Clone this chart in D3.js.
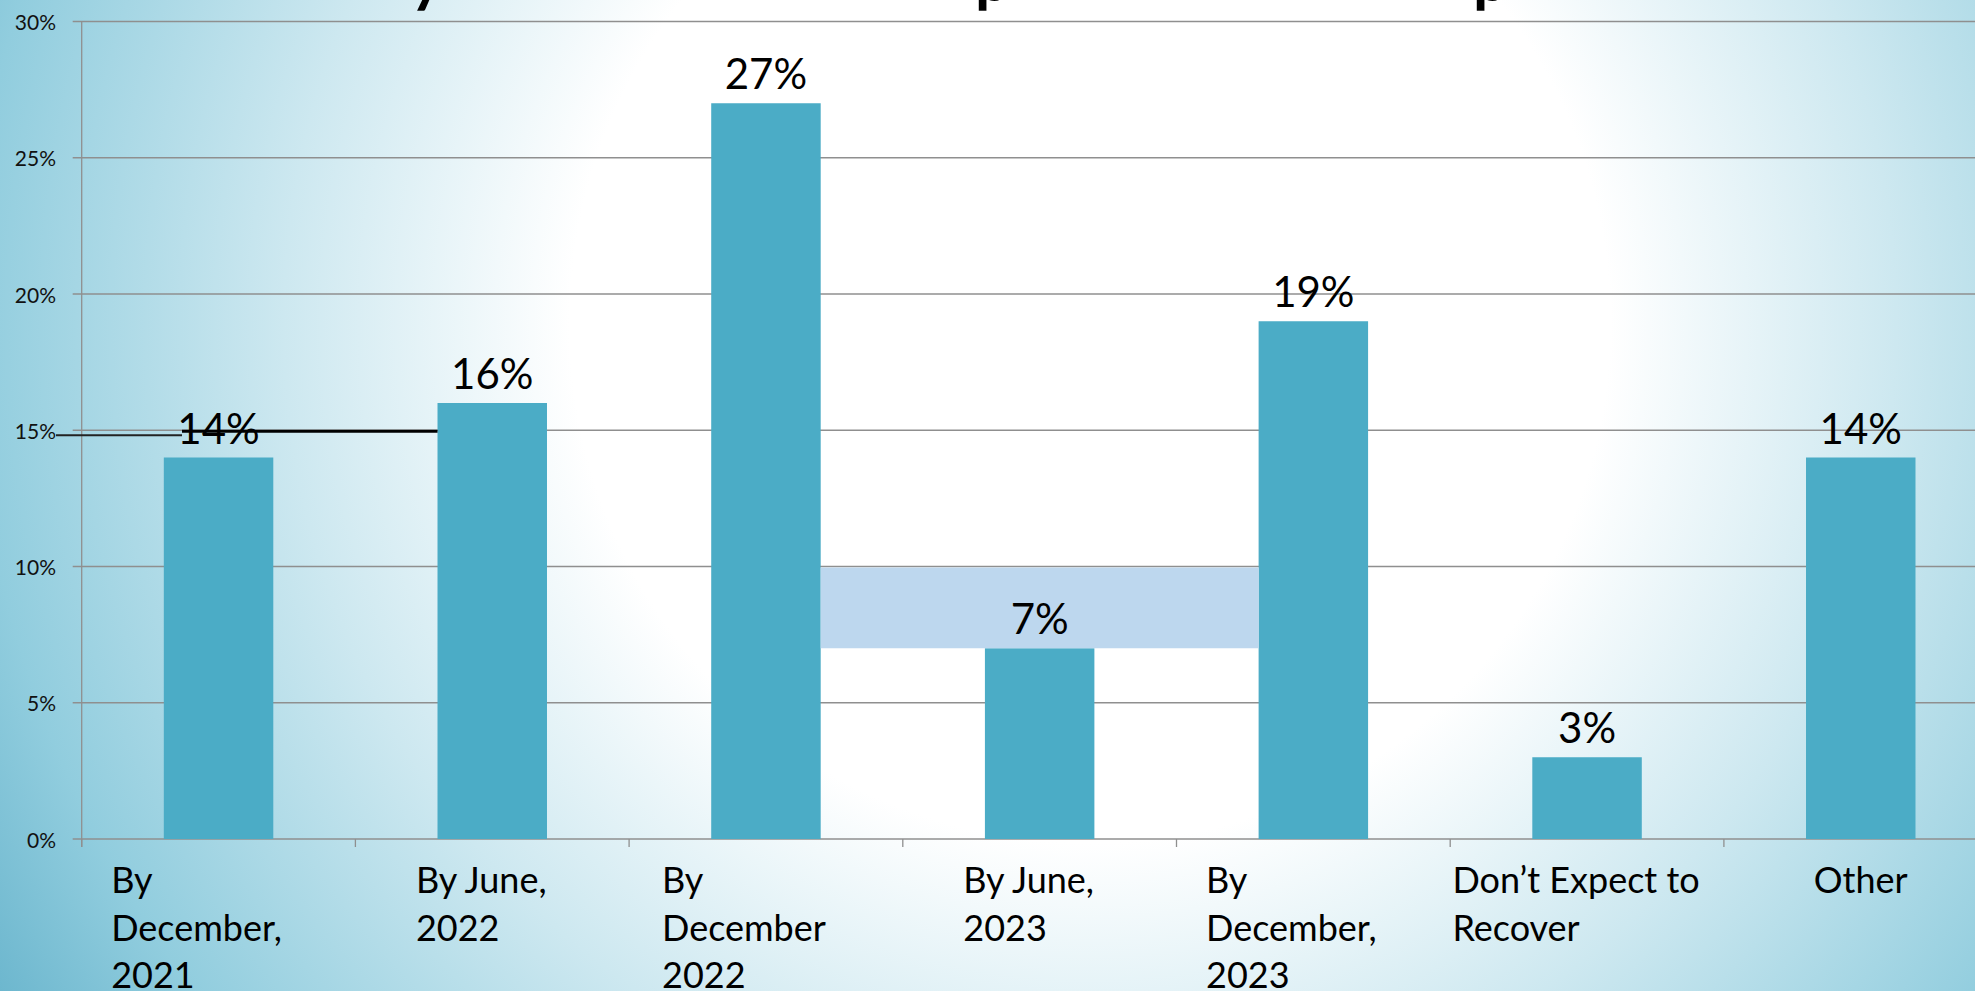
<!DOCTYPE html>
<html>
<head>
<meta charset="utf-8">
<script src="https://cdn.jsdelivr.net/npm/d3@7"></script>
<style>
  html, body { margin: 0; padding: 0; overflow: hidden; background: #fff; }
  svg { display: block; font-family: Lato, "Open Sans", sans-serif; }
</style>
</head>
<body>
<svg id="chart" width="1975" height="991"></svg>
<script>
// ---- data ----
const categories = [
  "By\nDecember,\n2021",
  "By June,\n2022",
  "By\nDecember\n2022",
  "By June,\n2023",
  "By\nDecember,\n2023",
  "Don’t Expect to\nRecover",
  "Other"
];
const values = [0.14, 0.16, 0.27, 0.07, 0.19, 0.03, 0.14];
const yTicks = [0, 0.05, 0.10, 0.15, 0.20, 0.25, 0.30];
const yMax = 0.30;
const highlightBand = [0.07, 0.10];            // shaded band behind "By June, 2023"
const highlightFrom = categories[2], highlightTo = categories[4];
const refLineValue = 0.15;                      // black marker line near 15%
const titleGlyphs = ["y", "p", "p"];            // descenders of the cropped title

// ---- layout ----
const W = 1975, H = 991;
const svg = d3.select("#chart");
const plotLeft = 81.7, plotBottom = 839, plotTop = 21.5;
const step = 273.7;

const x = d3.scaleBand()
  .domain(categories)
  .range([plotLeft, plotLeft + step * categories.length])
  .paddingInner(0.6)
  .paddingOuter(0.3);
const y = d3.scaleLinear().domain([0, yMax]).range([plotBottom, plotTop]);

// background gradient
const defs = svg.append("defs");
const rg = defs.append("radialGradient")
  .attr("id", "bg").attr("gradientUnits", "userSpaceOnUse")
  .attr("cx", 1090).attr("cy", 323).attr("r", 1300)
  .attr("fx", 1090).attr("fy", 323);
[[0, "#ffffff"], [0.40, "#ffffff"], [0.62, "#cde8f0"], [0.86, "#91cdde"], [1, "#68b4cc"]]
  .forEach(([o, c]) => rg.append("stop").attr("offset", o).attr("stop-color", c));
svg.append("rect").attr("width", W).attr("height", H).attr("fill", "url(#bg)");

// title fragments (cropped off the top of the slide)
const titleX = [410, 975, 1473];
svg.append("g").selectAll("text").data(titleGlyphs).join("text")
  .attr("x", (d, i) => titleX[i]).attr("y", 1)
  .attr("font-size", 62).attr("font-weight", 700).attr("fill", "#000")
  .text(d => d);

// gridlines + y ticks
const grid = svg.append("g");
grid.selectAll("line").data(yTicks).join("line")
  .attr("x1", plotLeft - 9).attr("x2", W)
  .attr("y1", d => y(d)).attr("y2", d => y(d))
  .attr("stroke", "#8f8f8f").attr("stroke-width", 1.3);

// y axis
svg.append("line")
  .attr("x1", plotLeft).attr("x2", plotLeft)
  .attr("y1", y(yMax)).attr("y2", plotBottom + 8)
  .attr("stroke", "#8f8f8f").attr("stroke-width", 1.3);

// x ticks at band boundaries
const bounds = d3.range(categories.length + 1).map(i => plotLeft + i * x.step());
svg.append("g").selectAll("line").data(bounds).join("line")
  .attr("x1", d => d).attr("x2", d => d)
  .attr("y1", plotBottom).attr("y2", plotBottom + 8)
  .attr("stroke", "#8f8f8f").attr("stroke-width", 1.3);

// y labels
svg.append("g").selectAll("text").data(yTicks).join("text")
  .attr("x", 56).attr("y", d => y(d))
  .attr("text-anchor", "end").attr("dominant-baseline", "central")
  .attr("font-size", 21).attr("fill", "#111")
  .text(d => d3.format(".0%")(d));

// bars
svg.append("g").selectAll("rect").data(values).join("rect")
  .attr("x", (d, i) => x(categories[i]))
  .attr("width", x.bandwidth())
  .attr("y", d => y(d))
  .attr("height", d => plotBottom - y(d))
  .attr("fill", "#4bacc6");

// highlight band
svg.append("rect")
  .attr("x", x(highlightFrom) + x.bandwidth())
  .attr("width", x(highlightTo) - (x(highlightFrom) + x.bandwidth()))
  .attr("y", y(highlightBand[1]) + 1)
  .attr("height", y(highlightBand[0]) - y(highlightBand[1]) - 1)
  .attr("fill", "#bdd7ee");

// value labels
svg.append("g").selectAll("text").data(values).join("text")
  .attr("x", (d, i) => x(categories[i]) + x.bandwidth() / 2)
  .attr("y", d => y(d) - 14)
  .attr("text-anchor", "middle")
  .attr("font-size", 42).attr("fill", "#000")
  .text(d => d3.format(".0%")(d));

// category labels (left-aligned blocks)
const catG = svg.append("g");
categories.forEach(c => {
  const lines = c.split("\n");
  const t = catG.append("text").attr("font-size", 36).attr("fill", "#000");
  lines.forEach((ln, j) => {
    t.append("tspan").attr("y", 893 + j * 47.5).text(ln);
  });
  const wMax = d3.max(t.selectAll("tspan").nodes(), n => n.getComputedTextLength());
  const left = x(c) + x.bandwidth() / 2 - wMax / 2 - 11 * (lines.length - 1);
  t.selectAll("tspan").attr("x", left);
});

// reference marker line near 15%
const refY = y(refLineValue);
svg.append("line")
  .attr("x1", 56).attr("x2", 182)
  .attr("y1", refY + 5).attr("y2", refY + 5)
  .attr("stroke", "#222").attr("stroke-width", 2);
svg.append("line")
  .attr("x1", 182).attr("x2", x(categories[1]))
  .attr("y1", refY + 1).attr("y2", refY + 1)
  .attr("stroke", "#000").attr("stroke-width", 3);
</script>
</body>
</html>
